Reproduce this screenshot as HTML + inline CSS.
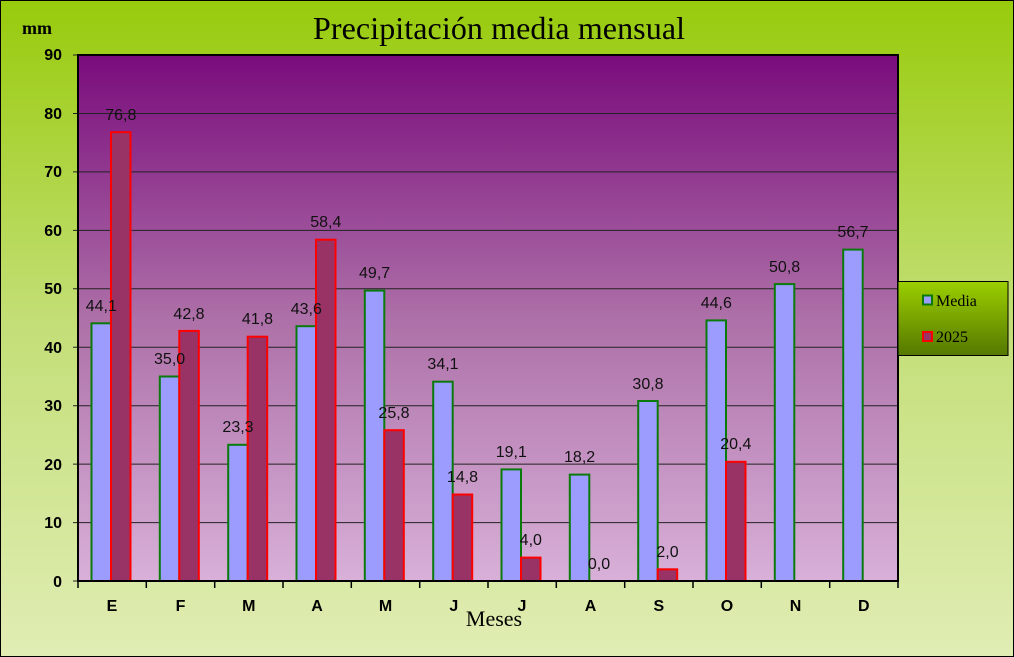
<!DOCTYPE html>
<html><head><meta charset="utf-8"><style>html,body{margin:0;padding:0}svg{display:block}</style></head><body>
<svg width="1014" height="657" xmlns="http://www.w3.org/2000/svg">
<defs>
<linearGradient id="bg" x1="0" y1="0" x2="0" y2="1"><stop offset="0" stop-color="#98cb0c"/><stop offset="0.5" stop-color="#c4df78"/><stop offset="1" stop-color="#e0edb4"/></linearGradient>
<linearGradient id="pa" x1="0" y1="0" x2="0" y2="1"><stop offset="0" stop-color="#7a0c7c"/><stop offset="0.5" stop-color="#ad70a8"/><stop offset="1" stop-color="#d8b0d8"/></linearGradient>
<linearGradient id="lg" x1="0" y1="0" x2="0" y2="1"><stop offset="0" stop-color="#9ccf00"/><stop offset="1" stop-color="#557800"/></linearGradient>
</defs>
<rect x="0.5" y="0.5" width="1013" height="656" fill="url(#bg)" stroke="#000"/>
<rect x="78" y="55" width="820" height="526" fill="url(#pa)"/>
<g stroke="#222" stroke-width="1">
<line x1="73" y1="522.6" x2="898" y2="522.6"/><line x1="73" y1="464.1" x2="898" y2="464.1"/><line x1="73" y1="405.7" x2="898" y2="405.7"/><line x1="73" y1="347.2" x2="898" y2="347.2"/><line x1="73" y1="288.8" x2="898" y2="288.8"/><line x1="73" y1="230.4" x2="898" y2="230.4"/><line x1="73" y1="171.9" x2="898" y2="171.9"/><line x1="73" y1="113.5" x2="898" y2="113.5"/><line x1="73" y1="55" x2="78" y2="55"/><line x1="73" y1="581" x2="78" y2="581"/>
</g>
<g stroke-width="2">
<g fill="#9c9cff" stroke="#0a7a0a">
<rect x="91.5" y="323.3" width="19.5" height="257.7"/><rect x="159.8" y="376.5" width="19.5" height="204.5"/><rect x="228.2" y="444.8" width="19.5" height="136.2"/><rect x="296.5" y="326.2" width="19.5" height="254.8"/><rect x="364.8" y="290.6" width="19.5" height="290.4"/><rect x="433.2" y="381.7" width="19.5" height="199.3"/><rect x="501.5" y="469.4" width="19.5" height="111.6"/><rect x="569.8" y="474.6" width="19.5" height="106.4"/><rect x="638.2" y="401" width="19.5" height="180"/><rect x="706.5" y="320.4" width="19.5" height="260.6"/><rect x="774.8" y="284.1" width="19.5" height="296.9"/><rect x="843.2" y="249.6" width="19.5" height="331.4"/>
</g>
<g fill="#993366" stroke="#ff0000">
<rect x="111" y="132.2" width="19.5" height="448.8"/><rect x="179.3" y="330.9" width="19.5" height="250.1"/><rect x="247.7" y="336.7" width="19.5" height="244.3"/><rect x="316" y="239.7" width="19.5" height="341.3"/><rect x="384.3" y="430.2" width="19.5" height="150.8"/><rect x="452.7" y="494.5" width="19.5" height="86.5"/><rect x="521" y="557.6" width="19.5" height="23.4"/><rect x="657.7" y="569.3" width="19.5" height="11.7"/><rect x="726" y="461.8" width="19.5" height="119.2"/>
</g>
</g>
<rect x="78" y="55" width="820" height="526" fill="none" stroke="#000" stroke-width="2"/>
<g stroke="#000" stroke-width="1.5">
<line x1="78" y1="581" x2="78" y2="588"/><line x1="146.3" y1="581" x2="146.3" y2="588"/><line x1="214.7" y1="581" x2="214.7" y2="588"/><line x1="283" y1="581" x2="283" y2="588"/><line x1="351.3" y1="581" x2="351.3" y2="588"/><line x1="419.7" y1="581" x2="419.7" y2="588"/><line x1="488" y1="581" x2="488" y2="588"/><line x1="556.3" y1="581" x2="556.3" y2="588"/><line x1="624.7" y1="581" x2="624.7" y2="588"/><line x1="693" y1="581" x2="693" y2="588"/><line x1="761.3" y1="581" x2="761.3" y2="588"/><line x1="829.7" y1="581" x2="829.7" y2="588"/><line x1="898" y1="581" x2="898" y2="588"/>
</g>
<g font-family="Liberation Sans, sans-serif" font-size="16" fill="#111" text-anchor="middle">
<text x="101.3" y="311">44,1</text><text x="169.6" y="364">35,0</text><text x="238" y="432">23,3</text><text x="306.3" y="314">43,6</text><text x="374.6" y="278">49,7</text><text x="443" y="369">34,1</text><text x="511.3" y="457">19,1</text><text x="579.6" y="462">18,2</text><text x="648" y="389">30,8</text><text x="716.3" y="308">44,6</text><text x="784.6" y="272">50,8</text><text x="853" y="237">56,7</text>
<text x="120.8" y="120">76,8</text><text x="189" y="319">42,8</text><text x="257.5" y="324">41,8</text><text x="325.8" y="227">58,4</text><text x="394" y="418">25,8</text><text x="462.5" y="482">14,8</text><text x="530.8" y="545">4,0</text><text x="599" y="569">0,0</text><text x="667.5" y="557">2,0</text><text x="735.8" y="449">20,4</text>
</g>
<g font-family="Liberation Sans, sans-serif" font-size="16" font-weight="bold" fill="#000" text-anchor="end">
<text x="62" y="587">0</text><text x="62" y="528">10</text><text x="62" y="470">20</text><text x="62" y="411">30</text><text x="62" y="353">40</text><text x="62" y="294">50</text><text x="62" y="236">60</text><text x="62" y="177">70</text><text x="62" y="119">80</text><text x="62" y="60">90</text>
</g>
<g font-family="Liberation Sans, sans-serif" font-size="16" font-weight="bold" fill="#000" text-anchor="middle">
<text x="112" y="611">E</text><text x="180.5" y="611">F</text><text x="248.8" y="611">M</text><text x="317" y="611">A</text><text x="385.5" y="611">M</text><text x="453.8" y="611">J</text><text x="522" y="611">J</text><text x="590.5" y="611">A</text><text x="658.8" y="611">S</text><text x="727" y="611">O</text><text x="795.5" y="611">N</text><text x="863.8" y="611">D</text>
</g>
<text x="499" y="39" font-family="Liberation Serif, serif" font-size="32" text-anchor="middle" fill="#000" textLength="372">Precipitación media mensual</text>
<text x="22" y="34" font-family="Liberation Serif, serif" font-size="18" font-weight="bold" fill="#000">mm</text>
<text x="494" y="626" font-family="Liberation Serif, serif" font-size="22" text-anchor="middle" fill="#000">Meses</text>
<rect x="898" y="281.5" width="110" height="74" fill="url(#lg)" stroke="#000" stroke-width="1"/>
<rect x="923" y="295.5" width="9" height="9" fill="#9c9cff" stroke="#0a7a0a" stroke-width="2"/>
<rect x="923" y="332" width="9" height="9" fill="#993366" stroke="#ff0000" stroke-width="2"/>
<g font-family="Liberation Serif, serif" font-size="16" fill="#000"><text x="936" y="306">Media</text><text x="936" y="342">2025</text></g>
</svg>
</body></html>
